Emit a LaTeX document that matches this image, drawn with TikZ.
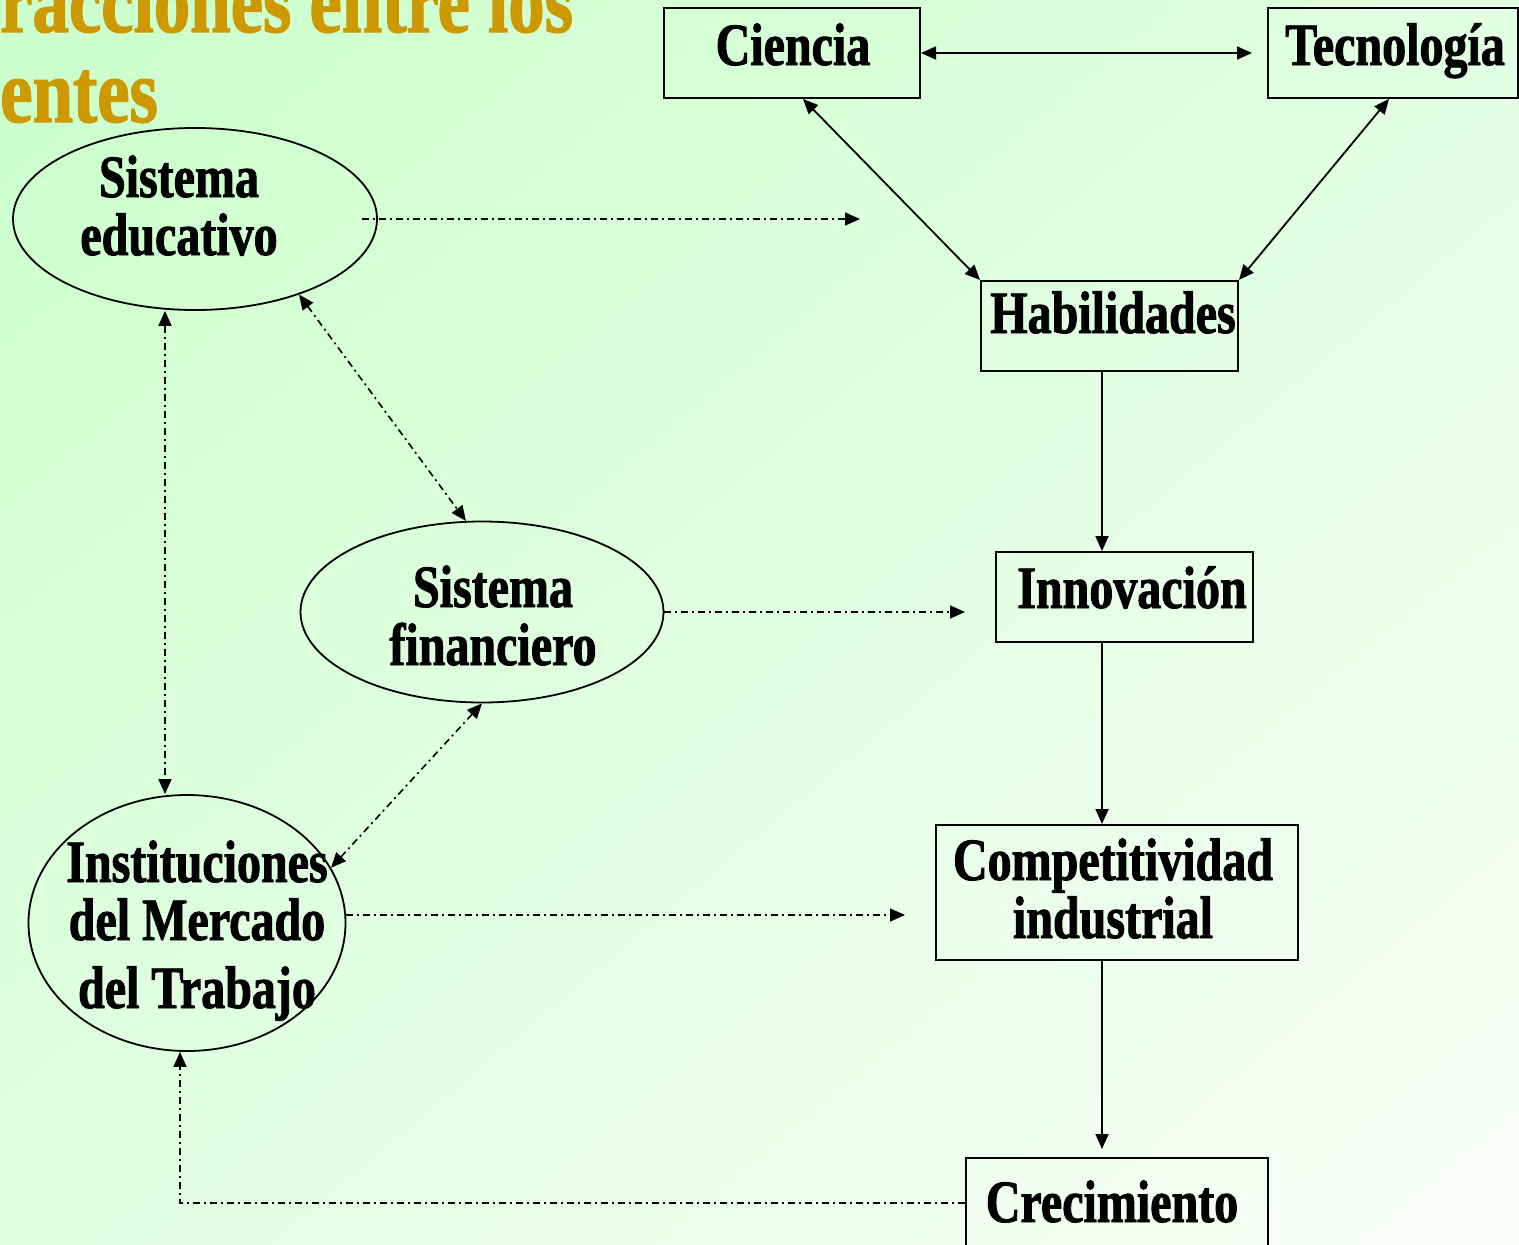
\documentclass[tikz,border=0pt]{standalone}
\usepackage{fontspec}
\newfontfamily\dfont[FakeStretch=0.8,FakeBold=1.5]{Liberation Serif Bold}
\usetikzlibrary{arrows.meta,shapes.geometric}
\definecolor{bgA}{RGB}{204,255,204}
\definecolor{bgB}{RGB}{247,255,247}
\definecolor{titlec}{RGB}{204,153,0}
\tikzset{
  mytri/.tip={Triangle[length=15pt,width=13pt]},
  box/.style={draw, line width=2pt, rectangle, inner sep=0pt},
  oval/.style={draw, line width=1.8pt, ellipse, inner sep=0pt},
  lbl/.style={font=\dfont\fontsize{60}{58}\selectfont, align=center, anchor=base, inner sep=0pt},
  ttl/.style={font=\dfont\fontsize{91}{90}\selectfont, text=titlec, anchor=base west, inner sep=0pt},
  solidarrow/.style={line width=1.8pt, -{mytri}},
  soliddouble/.style={line width=1.8pt, {mytri}-{mytri}},
  dd/.style={line width=1.6pt, dash pattern=on 7pt off 4pt on 2pt off 4pt},
  ddarrow/.style={dd, -{mytri}},
  dddouble/.style={dd, {mytri}-{mytri}}
}
\begin{document}
\begin{tikzpicture}[x=1pt,y=-1pt]
\useasboundingbox (0,0) rectangle (1519,1245);
\clip (0,0) rectangle (1519,1245);
\shade[top color=bgA, bottom color=bgB, shading angle=40] (-200,-200) rectangle (1719,1445);

% title
\node[ttl] (t1) at (0,32) {racciones entre los};
\node[ttl] (t2) at (0,122) {entes};

% boxes
\node[box, minimum width=256pt, minimum height=90pt] (cien) at (792,53) {};
\node[box, minimum width=250pt, minimum height=90pt] (tec) at (1393,53) {};
\node[box, minimum width=257pt, minimum height=90pt] (hab) at (1109.5,326) {};
\node[box, minimum width=257pt, minimum height=90pt] (inn) at (1124.5,597) {};
\node[box, minimum width=362pt, minimum height=135pt] (comp) at (1117,892.5) {};
\node[box, minimum width=302pt, minimum height=90pt] (crec) at (1117,1203) {};

\node[lbl] (cienT) at (793,65) {Ciencia};
\node[lbl] (tecT) at (1395,65) {Tecnología};
\node[lbl] (habT) at (1113,333) {Habilidades};
\node[lbl] (innT) at (1132,608) {Innovación};
\node[lbl] (compT) at (1113,938) {Competitividad\\industrial};
\node[lbl] (crecT) at (1112,1222) {Crecimiento};

% ellipses
\node[oval, minimum width=364pt, minimum height=182pt] (edu) at (195,219) {};
\node[oval, minimum width=363pt, minimum height=181pt] (fin) at (482,612) {};
\node[oval, minimum width=317pt, minimum height=256pt] (ins) at (187,923) {};

\node[lbl] (eduT) at (179,255) {Sistema\\educativo};
\node[lbl] (finT) at (493,665) {Sistema\\financiero};
\node[lbl] (insT) at (197,1008) {Instituciones\\del Mercado\\[10pt]del Trabajo};

% free ends and helper coordinates
\coordinate (spine) at (1102,0);
\coordinate (col) at (165,0);
\coordinate (eduEnd) at (860,219);
\coordinate (finEnd) at (965,612);
\coordinate (insEnd) at (905,915);

% solid connectors
\draw[soliddouble, shorten >=15pt] (cien.east) -- (tec.west);
\draw[soliddouble] ([xshift=11pt]cien.south) -- (hab.north west);
\draw[soliddouble] ([xshift=-4pt]tec.south) -- (hab.north east);
\draw[solidarrow] (hab.south -| spine) -- (inn.north -| spine);
\draw[solidarrow] (inn.south -| spine) -- (comp.north -| spine);
\draw[solidarrow, shorten >=8pt] (comp.south -| spine) -- (crec.north -| spine);

% dash-dot connectors
\draw[ddarrow] ([xshift=-16pt]edu.east) -- (eduEnd);
\draw[dddouble] (edu.-36) -- (fin.100);
\draw[dddouble] (edu.south -| col) -- (ins.north -| col);
\draw[ddarrow] (fin.east) -- (finEnd);
\draw[dddouble] (fin.south) -- (ins.21);
\draw[ddarrow] ([yshift=8pt]ins.east) -- (insEnd);
\draw[ddarrow] (crec.west) -| ([xshift=-7pt]ins.south);
\end{tikzpicture}
\end{document}
